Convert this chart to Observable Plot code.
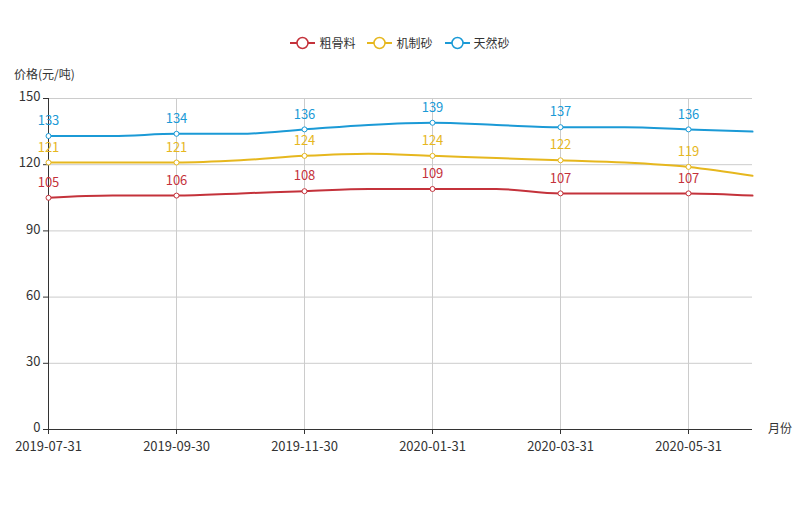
<!DOCTYPE html>
<html><head><meta charset="utf-8">
<script src="https://cdn.jsdelivr.net/npm/d3@7"></script>
<script src="https://cdn.jsdelivr.net/npm/@observablehq/plot@0.6"></script>
<style>
body{margin:0;background:#fff;font-family:"Noto Sans CJK SC","Noto Sans",sans-serif;}
#wrap{position:relative;width:800px;height:530px;}
#legend{position:absolute;top:34px;left:0;width:800px;display:flex;justify-content:center;gap:12px;font-size:12px;color:#333;}
#legend span{display:flex;align-items:center;gap:4px;}
.lbl{position:absolute;font-size:12px;color:#333;}
</style></head>
<body><div id="wrap">
<div id="legend"></div>
<div class="lbl" style="left:14px;top:65px;">价格(元/吨)</div>
<div class="lbl" style="left:768px;top:419px;">月份</div>
</div>
<script>
const months = ["2019-07-31","2019-08-31","2019-09-30","2019-10-31","2019-11-30","2019-12-31","2020-01-31","2020-02-29","2020-03-31","2020-04-30","2020-05-31","2020-06-30"];
const seriesNames = ["粗骨料","机制砂","天然砂"];
const coarse = [105,106,106,107,108,109,109,109,107,107,107,106];
const machine = [121,121,121,122,124,125,124,123,122,121,119,115];
const natural = [133,133,134,134,136,138,139,138,137,137,136,135];
const colors = ["#c4323b","#e6b71e","#1b9ad6"];
const yTicks = [0,30,60,90,120,150];

const all = [coarse, machine, natural];
const data = [];
all.forEach((vals, s) => vals.forEach((v, i) => data.push({month: months[i], value: v, series: seriesNames[s], i})));
const shown = data.filter(d => d.i % 2 === 0);
const xTicks = months.filter((m, i) => i % 2 === 0);

const chart = Plot.plot({
  width: 800, height: 530,
  marginTop: 98, marginLeft: 48, marginRight: 48, marginBottom: 101,
  style: {fontFamily: '"Noto Sans CJK SC","Noto Sans",sans-serif', fontSize: "13px", color: "#333", background: "transparent"},
  x: {type: "point", domain: months, padding: 0},
  y: {domain: [0, 150]},
  color: {domain: seriesNames, range: colors},
  marks: [
    Plot.gridY(yTicks, {stroke: "#ccc", strokeOpacity: 1}),
    Plot.ruleX(xTicks, {stroke: "#ccc", y1: 0, y2: 150}),
    Plot.ruleY([0], {stroke: "#333"}),
    Plot.ruleX([months[0]], {stroke: "#333", y1: 0, y2: 150}),
    Plot.axisY(yTicks, {tickSize: 5, tickFormat: () => "", label: null, stroke: "#333"}),
    Plot.axisY(yTicks, {tickSize: 5, tickPadding: 3, label: null, strokeOpacity: 0, fill: "#333", fontSize: 13, dy: -1.5}),
    Plot.axisX(xTicks, {tickSize: 5, tickPadding: 7, label: null, stroke: "#333", fill: "#333", fontSize: 13}),
    Plot.line(data, {x: "month", y: "value", stroke: "series", z: "series", strokeWidth: 2, curve: "monotone-x"}),
    Plot.dot(shown, {x: "month", y: "value", stroke: "series", fill: "white", r: 2.5, strokeWidth: 1}),
    Plot.text(shown, {x: "month", y: "value", text: d => String(d.value), fill: "series", dy: -15, fontSize: 13})
  ]
});
document.getElementById("wrap").appendChild(chart);
chart.style.position = "absolute"; chart.style.left = "0"; chart.style.top = "0";

const legend = document.getElementById("legend");
seriesNames.forEach((n, k) => {
  const sp = document.createElement("span");
  sp.innerHTML = `<svg width="25" height="14"><line x1="0" x2="25" y1="7" y2="7" stroke="${colors[k]}" stroke-width="2"/><circle cx="12.5" cy="7" r="5.5" fill="white" stroke="${colors[k]}" stroke-width="1.5"/></svg>${n}`;
  legend.appendChild(sp);
});
</script></body></html>
